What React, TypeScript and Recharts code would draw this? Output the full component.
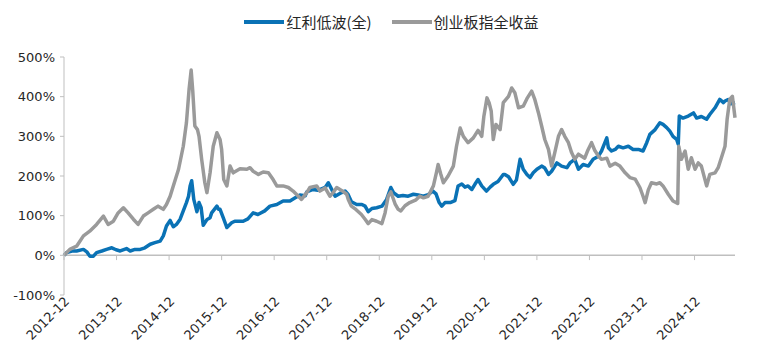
import React from 'react';
import { LineChart, Line, XAxis, YAxis, ReferenceLine, Legend } from 'recharts';

// time is a decimal year: 2013.0 = end of 2012-12
const yearTicks = [2013, 2014, 2015, 2016, 2017, 2018, 2019, 2020, 2021, 2022, 2023, 2024, 2025];
const yearLabels = ['2012-12', '2013-12', '2014-12', '2015-12', '2016-12', '2017-12', '2018-12', '2019-12', '2020-12', '2021-12', '2022-12', '2023-12', '2024-12'];
const returnTicks = [-100, 0, 100, 200, 300, 400, 500];
const seriesNames = ['红利低波(全)', '创业板指全收益'];

// 红利低波(全), cumulative return %
const lowVolTime = [
  2013.00, 2013.05, 2013.15, 2013.24, 2013.37, 2013.44, 2013.49, 2013.56, 2013.62, 2013.72, 2013.81, 2013.91, 2013.99,
  2014.07, 2014.19, 2014.26, 2014.35, 2014.45, 2014.54, 2014.64, 2014.73, 2014.83, 2014.89, 2014.95,
  2015.02, 2015.08, 2015.14, 2015.21, 2015.27, 2015.33, 2015.37, 2015.40, 2015.43, 2015.47, 2015.53, 2015.57, 2015.61, 2015.65, 2015.72, 2015.78, 2015.81, 2015.91, 2015.94, 2015.97,
  2016.03, 2016.10, 2016.19, 2016.25, 2016.41, 2016.50, 2016.60, 2016.69, 2016.82, 2016.92,
  2017.05, 2017.17, 2017.30, 2017.40, 2017.49, 2017.59, 2017.62, 2017.74, 2017.83, 2017.97,
  2018.03, 2018.08, 2018.16, 2018.25, 2018.35, 2018.40, 2018.47, 2018.57, 2018.67, 2018.73, 2018.79, 2018.86, 2018.95,
  2019.05, 2019.14, 2019.22, 2019.27, 2019.36, 2019.45, 2019.55, 2019.65, 2019.74, 2019.84, 2019.93,
  2020.02, 2020.08, 2020.14, 2020.19, 2020.25, 2020.35, 2020.44, 2020.50, 2020.57, 2020.63, 2020.69, 2020.76, 2020.82, 2020.88, 2020.95,
  2021.04, 2021.11, 2021.17, 2021.26, 2021.36, 2021.39, 2021.46, 2021.55, 2021.61, 2021.68, 2021.74, 2021.81, 2021.87, 2021.93,
  2022.00, 2022.09, 2022.15, 2022.22, 2022.28, 2022.38, 2022.47, 2022.57, 2022.63, 2022.72, 2022.79, 2022.88, 2022.98,
  2023.07, 2023.17, 2023.23, 2023.28, 2023.33, 2023.36, 2023.42, 2023.49, 2023.55, 2023.64, 2023.74, 2023.83, 2023.93,
  2024.02, 2024.09, 2024.15, 2024.25, 2024.34, 2024.40, 2024.47, 2024.53, 2024.59, 2024.66, 2024.69, 2024.71, 2024.78, 2024.88, 2024.98,
  2025.04, 2025.13, 2025.23, 2025.29, 2025.39, 2025.48, 2025.55, 2025.58, 2025.64, 2025.69, 2025.77,
];
const lowVolReturn = [
  0, 7, 11, 11, 15, 8, -2, -2, 7, 11, 15, 19, 14,
  11, 17, 11, 15, 15, 19, 28, 32, 36, 49, 74,
  88, 72, 78, 91, 112, 133, 149, 175, 188, 141, 110, 133, 120, 76, 90, 95, 107, 124, 116, 116,
  95, 70, 82, 86, 86, 92, 107, 103, 112, 124,
  128, 137, 137, 145, 152, 150, 160, 166, 164, 171,
  183, 170, 149, 156, 162, 155, 135, 128, 128, 124, 110, 118, 120,
  124, 141, 171, 158, 149, 151, 149, 154, 152, 149, 153,
  162, 155, 133, 124, 133, 133, 138, 175, 180, 172, 175, 166, 179, 191, 175,
  162, 172, 179, 186, 204, 204, 198, 179, 190, 242, 217, 204, 196, 208,
  217, 225, 220, 204, 212, 233, 225, 221, 233, 242, 217, 229, 225,
  242, 250, 263, 280, 296, 271, 263, 267, 275, 271, 275, 267, 267,
  263, 284, 305, 317, 334, 330, 322, 313, 300, 292, 280, 351, 346, 351, 359,
  346, 350, 343, 355, 372, 393, 385, 389, 393, 382, 385,
];

// 创业板指全收益, cumulative return %
const gemTime = [
  2013.00, 2013.11, 2013.24, 2013.37, 2013.49, 2013.62, 2013.75, 2013.84, 2013.94,
  2014.03, 2014.13, 2014.22, 2014.32, 2014.41, 2014.51, 2014.60, 2014.70, 2014.79, 2014.89, 2014.95,
  2015.02, 2015.08, 2015.18, 2015.27, 2015.33, 2015.38, 2015.42, 2015.45, 2015.49, 2015.54, 2015.57, 2015.62, 2015.68, 2015.72, 2015.78, 2015.84, 2015.91, 2015.97,
  2016.00, 2016.04, 2016.10, 2016.16, 2016.22, 2016.35, 2016.48, 2016.54, 2016.60, 2016.70, 2016.79, 2016.89, 2016.98,
  2017.05, 2017.17, 2017.27, 2017.36, 2017.45, 2017.52, 2017.62, 2017.68, 2017.81, 2017.87, 2017.97,
  2018.06, 2018.12, 2018.19, 2018.29, 2018.38, 2018.41, 2018.47, 2018.56, 2018.66, 2018.73, 2018.79, 2018.86, 2018.95,
  2019.05, 2019.11, 2019.17, 2019.22, 2019.30, 2019.36, 2019.41, 2019.49, 2019.58, 2019.70, 2019.77, 2019.84, 2019.93,
  2020.03, 2020.09, 2020.12, 2020.17, 2020.22, 2020.31, 2020.41, 2020.47, 2020.54, 2020.60, 2020.69, 2020.79, 2020.88, 2020.95, 2020.99,
  2021.05, 2021.09, 2021.13, 2021.17, 2021.22, 2021.30, 2021.36, 2021.46, 2021.52, 2021.58, 2021.65, 2021.74, 2021.81, 2021.90, 2021.96,
  2022.03, 2022.09, 2022.15, 2022.22, 2022.28, 2022.34, 2022.41, 2022.47, 2022.53, 2022.60, 2022.66, 2022.72, 2022.79, 2022.85, 2022.91, 2022.97,
  2023.04, 2023.10, 2023.17, 2023.23, 2023.33, 2023.39, 2023.49, 2023.58, 2023.68, 2023.77, 2023.87, 2023.96,
  2024.02, 2024.06, 2024.12, 2024.18, 2024.28, 2024.34, 2024.40, 2024.50, 2024.59, 2024.68, 2024.70, 2024.75, 2024.82, 2024.88, 2024.94,
  2025.01, 2025.07, 2025.13, 2025.23, 2025.29, 2025.39, 2025.45, 2025.52, 2025.58, 2025.62, 2025.67, 2025.72, 2025.77,
];
const gemReturn = [
  0, 15, 23, 49, 61, 78, 99, 78, 86,
  107, 120, 107, 91, 78, 99, 107, 116, 124, 116, 128,
  149, 175, 217, 275, 334, 418, 467, 415, 326, 317, 300, 242, 183, 158, 208, 275, 309, 292,
  267, 191, 175, 225, 208, 218, 217, 221, 212, 204, 210, 208, 191,
  175, 175, 171, 162, 150, 141, 158, 171, 175, 162, 170,
  149, 158, 171, 163, 154, 141, 124, 115, 103, 91, 80, 90, 86,
  80, 107, 149, 160, 130, 116, 112, 125, 133, 140, 149, 145, 149,
  175, 210, 229, 205, 183, 200, 225, 275, 321, 300, 284, 296, 315, 300, 350,
  397, 385, 364, 292, 330, 317, 385, 401, 422, 410, 372, 376, 395, 414, 393,
  359, 326, 292, 267, 225, 259, 300, 317, 300, 284, 259, 242, 255, 250, 245, 265,
  284, 265, 250, 242, 245, 225, 232, 225, 208, 196, 192, 171,
  149, 133, 165, 183, 180, 183, 175, 154, 137, 131, 275, 242, 263, 217, 246,
  217, 233, 225, 175, 204, 208, 221, 250, 275, 343, 393, 401, 347,
];

const lowVolData = lowVolTime.map((t, i) => ({ t, v: lowVolReturn[i] }));
const gemData = gemTime.map((t, i) => ({ t, v: gemReturn[i] }));

const BLUE = '#0a72b5';
const GRAY = '#9a9a9a';
const AXIS = '#bfbfbf';
const TEXT = '#262626';
const tickFont = '"DejaVu Sans", sans-serif';

function YearTick({ x, y, payload }: any) {
  const label = yearLabels[yearTicks.indexOf(payload.value)];
  const ax = x + 3;
  const ay = y + 2;
  return (
    <text
      x={ax}
      y={ay}
      dy="0.35em"
      textAnchor="end"
      transform={`rotate(-45 ${ax} ${ay})`}
      fill={TEXT}
      fontSize={13}
      fontFamily={tickFont}
    >
      {label}
    </text>
  );
}

function LegendContent({ payload }: any) {
  const items = [...(payload || [])].sort(
    (a: any, b: any) => seriesNames.indexOf(a.value) - seriesNames.indexOf(b.value)
  );
  return (
    <div
      style={{
        display: 'flex',
        justifyContent: 'center',
        paddingLeft: 17,
        fontFamily: '"Noto Sans CJK SC", sans-serif',
        fontSize: 15,
        color: TEXT,
        lineHeight: '20px',
      }}
    >
      {items.map((p: any, i: number) => (
        <span key={i} style={{ display: 'flex', alignItems: 'center', marginLeft: i ? 20 : 0 }}>
          <span style={{ width: 40, height: 4, background: p.color, marginRight: 2 }} />
          {p.value}
        </span>
      ))}
    </div>
  );
}

export default function App() {
  return (
    <div style={{ position: 'absolute', left: 0, top: 0, background: '#fff' }}>
      <LineChart width={766} height={364} margin={{ top: 57, right: 31, left: 0, bottom: 9 }}>
        <XAxis
          type="number"
          dataKey="t"
          domain={[2013, 2025.77]}
          ticks={yearTicks}
          axisLine={false}
          tickLine={false}
          tickSize={0}
          height={60}
          interval={0}
          tick={<YearTick />}
        />
        <YAxis
          type="number"
          domain={[-100, 500]}
          ticks={returnTicks}
          width={64}
          interval={0}
          tickFormatter={(v: number) => `${v}%`}
          axisLine={{ stroke: AXIS }}
          tickLine={{ stroke: AXIS }}
          tickSize={4}
          tickMargin={5}
          tick={{ fill: TEXT, fontSize: 13, fontFamily: tickFont }}
        />
        <ReferenceLine y={0} stroke={AXIS} strokeWidth={1.5} />
        {yearTicks.map((t) => (
          <ReferenceLine
            key={t}
            segment={[{ x: t, y: 0 }, { x: t, y: -12 }]}
            stroke={AXIS}
          />
        ))}
        <Legend
          verticalAlign="middle"
          content={<LegendContent />}
          wrapperStyle={{ top: 12, left: 0, width: 766 }}
        />
        <Line
          data={lowVolData}
          dataKey="v"
          name={seriesNames[0]}
          type="linear"
          stroke={BLUE}
          strokeWidth={3.5}
          strokeLinejoin="round"
          dot={false}
          activeDot={false}
          isAnimationActive={false}
        />
        <Line
          data={gemData}
          dataKey="v"
          name={seriesNames[1]}
          type="linear"
          stroke={GRAY}
          strokeWidth={3.5}
          strokeLinejoin="round"
          dot={false}
          activeDot={false}
          isAnimationActive={false}
        />
      </LineChart>
    </div>
  );
}
